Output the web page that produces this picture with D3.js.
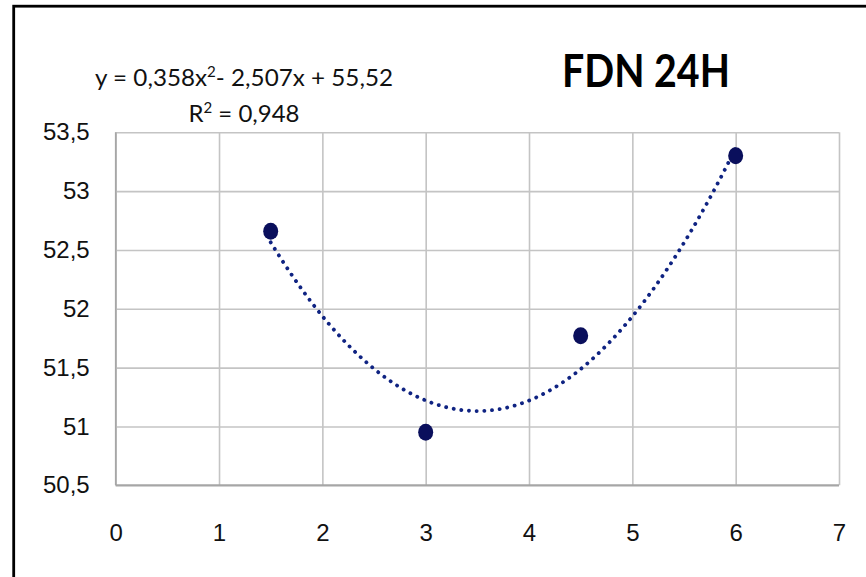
<!DOCTYPE html>
<html>
<head>
<meta charset="utf-8">
<script src="https://cdn.jsdelivr.net/npm/d3@7"></script>
<style>
  body { margin: 0; background: #fff; }
  svg { display: block; font-family: Lato, "Liberation Sans", sans-serif; }
  .axis text { font-size: 24px; fill: #111; }
</style>
</head>
<body>
<div class="chart"></div>
<script>
// data
const xValues = [1.5, 3, 4.5, 6]
const yValues = [52.66, 50.95, 51.77, 53.3]
const xTicks = [0, 1, 2, 3, 4, 5, 6, 7]
const yTicks = [50.5, 51, 51.5, 52, 52.5, 53, 53.5]
// polynomial trendline as printed on the chart: a*x^2 + b*x + c
const trendCoef = [0.358, -2.507, 55.52]
const trendRange = [1.5, 6]

const W = 866, H = 577
const margin = ({top: 132.3, right: 27, bottom: 91.7, left: 115.7})
const width = W - margin.left - margin.right
const height = H - margin.top - margin.bottom

const fmt = d => String(d).replace('.', ',')

const svg = d3.select('.chart').append('svg')
    .attr('width', W)
    .attr('height', H)

// outer frame (only top & left edges visible)
svg.append('rect')
    .attr('x', 13.7).attr('y', 6.2)
    .attr('width', 1000).attr('height', 1000)
    .attr('fill', 'none')
    .attr('stroke', '#000')
    .attr('stroke-width', 2.8)

const g = svg.append('g')
    .attr('transform', `translate(${margin.left},${margin.top})`)

const xScale = d3.scaleLinear().domain([0, 7]).range([0, width])
const yScale = d3.scaleLinear().domain([50.5, 53.5]).range([height, 0])

const yAxis = d3.axisLeft(yScale)
    .tickValues(yTicks)
    .tickFormat(fmt)
    .tickSize(-width)
    .tickPadding(26)

const xAxis = d3.axisBottom(xScale)
    .tickValues(xTicks)
    .tickFormat(fmt)
    .tickSize(-height)
    .tickPadding(39)

g.append('g').attr('class', 'axis y-axis').call(yAxis)
g.append('g').attr('class', 'axis x-axis')
    .attr('transform', `translate(0,${height})`)
    .call(xAxis)

g.selectAll('.axis .domain').remove()
g.selectAll('.axis line').attr('stroke', '#c4c4c4').attr('stroke-width', 1.6)

// bottom axis line + left edge
g.append('line')
    .attr('x1', 0).attr('x2', width)
    .attr('y1', height).attr('y2', height)
    .attr('stroke', '#a6a6a6').attr('stroke-width', 2)
g.append('line')
    .attr('x1', 0).attr('x2', 0)
    .attr('y1', 0).attr('y2', height)
    .attr('stroke', '#a6a6a6').attr('stroke-width', 1.6)

// trendline
const trendX = d3.range(trendRange[0], trendRange[1] + 0.001, 0.05)
const trendFn = x => trendCoef[0] * x * x + trendCoef[1] * x + trendCoef[2]
const line = d3.line().x(d => xScale(d)).y(d => yScale(trendFn(d)))

g.append('path')
    .datum(trendX)
    .attr('d', line)
    .attr('fill', 'none')
    .attr('stroke', '#0f2382')
    .attr('stroke-width', 3.8)
    .attr('stroke-linecap', 'round')
    .attr('stroke-dasharray', '0.1 7.6')

// points
g.selectAll('.pt')
    .data(xValues.map((x, i) => ({x, y: yValues[i]})))
    .enter()
    .append('ellipse')
    .attr('class', 'pt')
    .attr('cx', d => xScale(d.x))
    .attr('cy', d => yScale(d.y))
    .attr('rx', 7.5)
    .attr('ry', 8.5)
    .attr('fill', '#0a0f5c')

// equation
const eq = svg.append('text')
    .attr('x', 244).attr('y', 86)
    .attr('text-anchor', 'middle')
    .attr('textLength', 298)
    .attr('lengthAdjust', 'spacingAndGlyphs')
    .style('font-size', '24px')
    .style('fill', '#111')
eq.append('tspan').text('y = 0,358x')
eq.append('tspan').text('2').attr('dy', -9).style('font-size', '15px')
eq.append('tspan').text('- 2,507x + 55,52').attr('dy', 9)

const r2 = svg.append('text')
    .attr('x', 244).attr('y', 121.7)
    .attr('text-anchor', 'middle')
    .style('font-size', '24px')
    .style('fill', '#111')
r2.append('tspan').text('R')
r2.append('tspan').text('2').attr('dy', -9).style('font-size', '15px')
r2.append('tspan').text(' = 0,948').attr('dy', 9)

// title
svg.append('text')
    .attr('x', 646).attr('y', 86.7)
    .attr('text-anchor', 'middle')
    .attr('textLength', 168)
    .attr('lengthAdjust', 'spacingAndGlyphs')
    .style('font-size', '45px')
    .style('font-weight', 'bold')
    .style('fill', '#000')
    .text('FDN 24H')
</script>
</body>
</html>
